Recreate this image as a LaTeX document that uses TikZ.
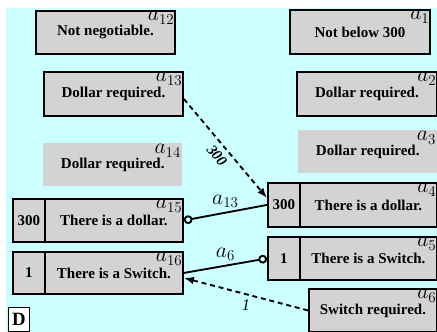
\documentclass[tikz,border=0pt]{standalone}
\usepackage[no-math]{fontspec}
\setmainfont{Liberation Serif}
\usetikzlibrary{arrows.meta}
\definecolor{bgcyan}{RGB}{204,255,255}
\definecolor{boxgray}{RGB}{211,211,211}
\tikzset{
  box/.style={draw, line width=1.5pt, fill=boxgray, anchor=north west, inner sep=0pt,
    font=\bfseries\fontsize{12}{13}\selectfont},
  flat/.style={fill=boxgray, anchor=north west, inner sep=0pt,
    font=\bfseries\fontsize{12}{13}\selectfont},
  cell/.style 2 args={minimum width=#1*0.8pt, minimum height=#2*0.8pt},
  tag/.style={anchor=north east, inner sep=1pt, font=\LARGE},
  link/.style={line width=1.5pt},
  dlink/.style={line width=1.5pt, dash pattern=on 4pt off 3pt},
}
\begin{document}
\begin{tikzpicture}[x=0.8pt,y=-0.8pt]
  \useasboundingbox (0,0) rectangle (437,332);
  \fill [bgcyan] (6,8) rectangle (437,332);
  % left column
  \node [box, cell={139}{43}] (a12) at (35,10) {Not negotiable.};
  \node [box, cell={139}{44}] (a13) at (43,71) {Dollar required.};
  \node [flat, cell={139}{43}] (a14) at (43,143) {Dollar required.};
  \node [box, cell={32}{43}] (a15n) at (12,198) {300};
  \node [box, cell={138}{43}] (a15) at (44,198) {There is a dollar.};
  \node [box, cell={32}{42}] (a16n) at (12,251) {1};
  \node [box, cell={138}{42}] (a16) at (44,251) {There is a Switch.};
  % right column
  \node [box, cell={140}{44}] (a1) at (289,9) {Not below 300};
  \node [box, cell={140}{44}] (a2) at (296,71) {Dollar required.};
  \node [flat, cell={139}{43}] (a3) at (298,130) {Dollar required.};
  \node [box, cell={32}{44}] (a4n) at (267,182) {300};
  \node [box, cell={137}{44}] (a4) at (299,182) {There is a dollar.};
  \node [box, cell={32}{43}] (a5n) at (267,236) {1};
  \node [box, cell={137}{43}] (a5) at (299,236) {There is a Switch.};
  \node [box, cell={128}{43}] (a6) at (308,288) {Switch required.};
  % tags
  \node [tag] at (a12.north east) {$a_{12}$};
  \node [tag] at (a13.north east) {$a_{13}$};
  \node [tag] at (a14.north east) {$a_{14}$};
  \node [tag] at (a15.north east) {$a_{15}$};
  \node [tag] at (a16.north east) {$a_{16}$};
  \node [tag] at (a1.north east) {$a_{1}$};
  \node [tag] at (a2.north east) {$a_{2}$};
  \node [tag] at (a3.north east) {$a_{3}$};
  \node [tag] at (a4.north east) {$a_{4}$};
  \node [tag] at (a5.north east) {$a_{5}$};
  \node [tag] at (a6.north east) {$a_{6}$};
  % corner mark
  \node [draw, fill=white, line width=0.6pt, anchor=north west, inner sep=0pt, cell={21}{24},
    font=\bfseries\fontsize{15}{15}\selectfont] (d) at (8,307) {D};
  % connectors
  \draw [dlink, -{Latex[length=8pt,width=6pt]}] ([yshift=-4pt]a13.east) -- ([yshift=5.6pt]a4n.west)
    node [midway, sloped, below, inner sep=4pt, font=\bfseries\itshape\fontsize{12}{12}\selectfont] {300};
  \draw [link, {Circle[open,length=7pt,width=7pt]}-] (a15.east) -- (a4n.west)
    node [midway, above, font=\LARGE] {$a_{13}$};
  \draw [link, -{Circle[open,length=7pt,width=7pt]}] (a16.east) -- (a5n.west)
    node [midway, above, font=\LARGE] {$a_{6}$};
  \draw [dlink, -{Latex[length=8pt,width=6pt]}] (a6.west) -- ([yshift=-4pt]a16.east)
    node [midway, below, font=\itshape\fontsize{13}{13}\selectfont] {1};
\end{tikzpicture}
\end{document}
